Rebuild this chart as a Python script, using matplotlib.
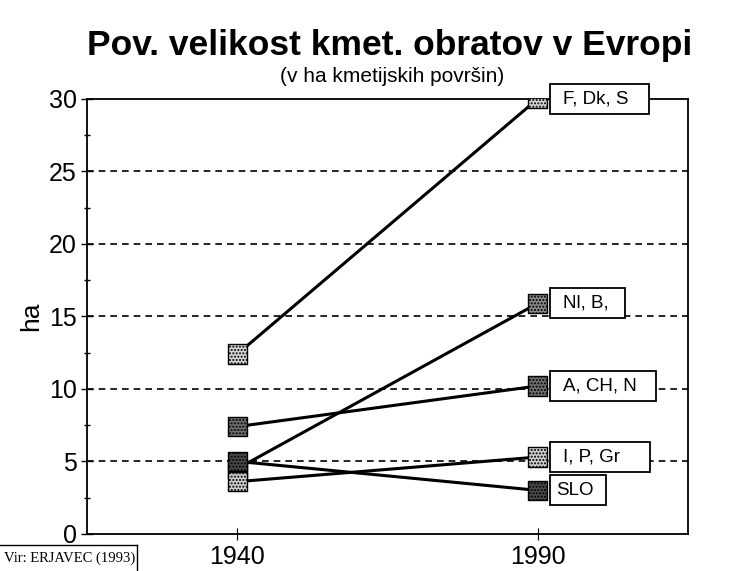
import matplotlib.pyplot as plt
from matplotlib.patches import Rectangle
from matplotlib.ticker import MultipleLocator

# podatki (ha kmetijskih površin)
years = [1940, 1990]
groups = ["F, Dk, S", "Nl, B,", "A, CH, N", "I, P, Gr", "SLO"]
values_1940 = [12.4, 4.5, 7.4, 3.6, 5.0]
values_1990 = [30.0, 15.9, 10.2, 5.3, 3.0]
shades = ["#d8d8d8", "#8a8a8a", "#707070", "#d0d0d0", "#4a4a4a"]
box_w = [99, 75, 106, 100, 56]   # sirina okvirjev z oznakami (px)

plt.rcParams['font.family'] = ['Liberation Sans', 'DejaVu Sans']

fig = plt.figure(figsize=(7.39, 5.71), dpi=100)
ax = fig.add_axes([0.118, 0.065, 0.813, 0.762])
ax.set_xlim(1915, 2015)
ax.set_ylim(0, 30)
px_x = 100 / (0.813 * 739)   # leta na piksel
px_y = 30 / (0.762 * 571)    # ha na piksel

for g, v0, v1, c, w in zip(groups, values_1940, values_1990, shades, box_w):
    ax.plot(years, [v0, v1], color='black', lw=2.2, zorder=3)
    ax.scatter(years, [v0, v1], marker='s', s=190, facecolor=c, edgecolor='black',
               hatch='.....', linewidths=1.0, zorder=4)
    x0 = years[1] + 12 * px_x
    h = 30 * px_y
    ax.add_patch(Rectangle((x0, v1 - h / 2), w * px_x, h, facecolor='white',
                           edgecolor='black', lw=1.3, zorder=5, clip_on=False))
    ax.text(x0 + (6 if g == "SLO" else 13) * px_x, v1, g, fontsize=13.5, va='center',
            ha='left', zorder=6)

ax.set_xticks(years)
ax.set_yticks(range(0, 31, 5))
ax.yaxis.set_minor_locator(MultipleLocator(2.5))
ax.tick_params(axis='y', which='major', direction='inout', length=8, labelsize=18, width=1)
ax.tick_params(axis='y', which='minor', direction='inout', length=4, width=1)
ax.tick_params(axis='x', direction='inout', length=8, labelsize=18, pad=4)
for y in range(5, 30, 5):
    ax.axhline(y, color='black', ls=(0, (4, 3)), lw=1.2, zorder=1)
for s in ax.spines.values():
    s.set_linewidth(1.3)

ax.set_ylabel('ha', fontsize=19, labelpad=4)

fig.text(0.527, 0.921, 'Pov. velikost kmet. obratov v Evropi', ha='center', va='center',
         fontsize=25.5, fontweight='bold')
fig.text(0.53, 0.866, '(v ha kmetijskih površin)', ha='center', va='center', fontsize=15)

fig.text(0.005, 0.023, 'Vir: ERJAVEC (1993)', ha='left', va='center', fontsize=10.5,
         family='Liberation Serif')
fig.add_artist(plt.Line2D([0, 0.185], [0.046, 0.046], color='black', lw=1,
                          transform=fig.transFigure))
fig.add_artist(plt.Line2D([0.185, 0.185], [0.0, 0.046], color='black', lw=1,
                          transform=fig.transFigure))

fig.savefig('out.png', dpi=100)
